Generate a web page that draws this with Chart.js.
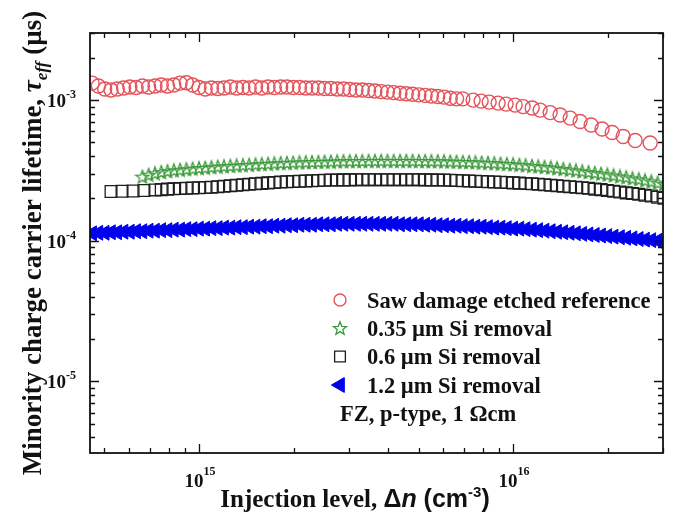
<!DOCTYPE html>
<html>
<head>
<meta charset="utf-8">
<script src="https://cdn.jsdelivr.net/npm/chart.js@4.4.0/dist/chart.umd.min.js"></script>
<style>
  html, body { margin: 0; padding: 0; background: #fff; }
  canvas { display: block; }
</style>
</head>
<body>
<canvas id="lifetime" width="673" height="514"></canvas>
<script>
// injection level grid, cm^-3
const dnGrid = [
  4.571e14, 4.786e14, 5.012e14, 5.248e14, 5.495e14, 5.754e14, 6.026e14, 6.310e14, 6.607e14, 6.918e14,
  7.244e14, 7.586e14, 7.943e14, 8.318e14, 8.710e14, 9.120e14, 9.550e14,
  1.000e15, 1.047e15, 1.096e15, 1.148e15, 1.202e15, 1.259e15, 1.318e15, 1.380e15, 1.445e15, 1.514e15,
  1.585e15, 1.660e15, 1.738e15, 1.820e15, 1.905e15, 1.995e15, 2.089e15, 2.188e15, 2.291e15, 2.399e15,
  2.512e15, 2.630e15, 2.754e15, 2.884e15, 3.020e15, 3.162e15, 3.311e15, 3.467e15, 3.631e15, 3.802e15,
  3.981e15, 4.169e15, 4.365e15, 4.571e15, 4.786e15, 5.012e15, 5.248e15, 5.495e15, 5.754e15, 6.026e15,
  6.310e15, 6.607e15, 6.918e15, 7.244e15, 7.586e15, 7.943e15, 8.318e15, 8.710e15, 9.120e15, 9.550e15,
  1.000e16, 1.047e16, 1.096e16, 1.148e16, 1.202e16, 1.259e16, 1.318e16, 1.380e16, 1.445e16, 1.514e16,
  1.585e16, 1.660e16, 1.738e16, 1.820e16, 1.905e16, 1.995e16, 2.089e16, 2.188e16, 2.291e16, 2.399e16,
  2.512e16, 2.630e16, 2.754e16, 2.884e16, 3.020e16
];
// reference sample is sparser at high injection
const refTailX = [
  7.46e15, 7.91e15, 8.39e15, 8.96e15, 9.50e15, 1.015e16, 1.076e16, 1.150e16, 1.219e16, 1.312e16,
  1.411e16, 1.519e16, 1.634e16, 1.772e16, 1.920e16, 2.067e16, 2.240e16, 2.446e16, 2.731e16
];
const si06HeadX = [5.25e14, 5.69e14, 6.17e14, 6.68e14];

// effective lifetime, us
const refTau = [
  1.32e-3, 1.26e-3, 1.20e-3, 1.18e-3, 1.20e-3, 1.22e-3, 1.24e-3, 1.23e-3, 1.26e-3, 1.24e-3,
  1.26e-3, 1.28e-3, 1.26e-3, 1.28e-3, 1.32e-3, 1.33e-3, 1.28e-3, 1.23e-3, 1.20e-3, 1.22e-3,
  1.21e-3, 1.22e-3, 1.24e-3, 1.22e-3, 1.23e-3, 1.22e-3, 1.24e-3, 1.22e-3, 1.24e-3, 1.23e-3,
  1.24e-3, 1.24e-3, 1.23e-3, 1.23e-3, 1.22e-3, 1.22e-3, 1.22e-3, 1.21e-3, 1.21e-3, 1.20e-3,
  1.20e-3, 1.19e-3, 1.18e-3, 1.18e-3, 1.17e-3, 1.16e-3, 1.15e-3, 1.14e-3, 1.13e-3, 1.12e-3,
  1.11e-3, 1.10e-3, 1.09e-3, 1.08e-3, 1.07e-3, 1.06e-3, 1.05e-3, 1.03e-3, 1.02e-3, 1.02e-3,
  1.00e-3, 0.984e-3, 0.968e-3, 0.952e-3, 0.937e-3, 0.922e-3, 0.899e-3, 0.878e-3, 0.849e-3, 0.815e-3,
  0.783e-3, 0.745e-3, 0.704e-3, 0.665e-3, 0.623e-3, 0.588e-3, 0.551e-3, 0.516e-3, 0.496e-3
];
const si035Tau = [
  2.86e-4, 2.95e-4, 3.02e-4, 3.08e-4, 3.13e-4, 3.17e-4, 3.20e-4, 3.23e-4, 3.26e-4,
  3.29e-4, 3.31e-4, 3.34e-4, 3.37e-4, 3.39e-4, 3.41e-4, 3.43e-4, 3.45e-4, 3.47e-4, 3.49e-4,
  3.51e-4, 3.53e-4, 3.55e-4, 3.57e-4, 3.58e-4, 3.60e-4, 3.61e-4, 3.62e-4, 3.63e-4, 3.64e-4,
  3.65e-4, 3.66e-4, 3.67e-4, 3.68e-4, 3.68e-4, 3.69e-4, 3.69e-4, 3.70e-4, 3.70e-4, 3.70e-4,
  3.70e-4, 3.70e-4, 3.70e-4, 3.70e-4, 3.70e-4, 3.69e-4, 3.69e-4, 3.68e-4, 3.68e-4, 3.67e-4,
  3.66e-4, 3.65e-4, 3.64e-4, 3.63e-4, 3.61e-4, 3.60e-4, 3.58e-4, 3.56e-4, 3.54e-4, 3.52e-4,
  3.50e-4, 3.47e-4, 3.44e-4, 3.41e-4, 3.38e-4, 3.35e-4, 3.32e-4, 3.28e-4, 3.24e-4, 3.20e-4,
  3.16e-4, 3.12e-4, 3.08e-4, 3.04e-4, 3.00e-4, 2.96e-4, 2.92e-4, 2.87e-4, 2.83e-4, 2.78e-4,
  2.74e-4, 2.69e-4, 2.64e-4, 2.59e-4, 2.54e-4
];
const si06Tau = [
  2.24e-4, 2.25e-4, 2.26e-4, 2.28e-4,
  2.30e-4, 2.31e-4, 2.33e-4, 2.34e-4, 2.35e-4, 2.36e-4, 2.37e-4,
  2.38e-4, 2.39e-4, 2.40e-4, 2.42e-4, 2.44e-4, 2.46e-4, 2.48e-4, 2.50e-4, 2.52e-4, 2.54e-4,
  2.56e-4, 2.58e-4, 2.60e-4, 2.62e-4, 2.63e-4, 2.64e-4, 2.65e-4, 2.66e-4, 2.67e-4, 2.68e-4,
  2.69e-4, 2.70e-4, 2.70e-4, 2.71e-4, 2.71e-4, 2.72e-4, 2.72e-4, 2.72e-4, 2.72e-4, 2.72e-4,
  2.72e-4, 2.72e-4, 2.72e-4, 2.72e-4, 2.72e-4, 2.72e-4, 2.71e-4, 2.71e-4, 2.70e-4, 2.70e-4,
  2.69e-4, 2.68e-4, 2.67e-4, 2.66e-4, 2.65e-4, 2.64e-4, 2.63e-4, 2.62e-4, 2.61e-4, 2.60e-4,
  2.58e-4, 2.57e-4, 2.55e-4, 2.54e-4, 2.52e-4, 2.50e-4, 2.48e-4, 2.46e-4, 2.44e-4, 2.42e-4,
  2.40e-4, 2.38e-4, 2.36e-4, 2.33e-4, 2.31e-4, 2.28e-4, 2.25e-4, 2.22e-4, 2.19e-4, 2.17e-4,
  2.14e-4, 2.11e-4, 2.08e-4, 2.04e-4, 2.01e-4
];
const si12Tau = [
  1.13e-4, 1.14e-4, 1.14e-4, 1.15e-4, 1.15e-4, 1.16e-4, 1.16e-4, 1.17e-4, 1.17e-4, 1.18e-4,
  1.18e-4, 1.19e-4, 1.19e-4, 1.20e-4, 1.20e-4, 1.21e-4, 1.21e-4,
  1.22e-4, 1.22e-4, 1.23e-4, 1.23e-4, 1.24e-4, 1.24e-4, 1.25e-4, 1.25e-4, 1.26e-4, 1.26e-4,
  1.27e-4, 1.27e-4, 1.28e-4, 1.28e-4, 1.29e-4, 1.29e-4, 1.30e-4, 1.30e-4, 1.30e-4, 1.31e-4,
  1.31e-4, 1.31e-4, 1.32e-4, 1.32e-4, 1.32e-4, 1.32e-4, 1.32e-4, 1.32e-4, 1.32e-4, 1.32e-4,
  1.32e-4, 1.32e-4, 1.31e-4, 1.31e-4, 1.31e-4, 1.31e-4, 1.30e-4, 1.30e-4, 1.29e-4, 1.29e-4,
  1.28e-4, 1.28e-4, 1.27e-4, 1.27e-4, 1.26e-4, 1.26e-4, 1.25e-4, 1.24e-4, 1.24e-4, 1.23e-4,
  1.22e-4, 1.22e-4, 1.21e-4, 1.20e-4, 1.19e-4, 1.18e-4, 1.17e-4, 1.16e-4, 1.15e-4, 1.14e-4,
  1.13e-4, 1.12e-4, 1.11e-4, 1.10e-4, 1.09e-4, 1.08e-4, 1.07e-4, 1.06e-4, 1.05e-4, 1.04e-4,
  1.03e-4, 1.02e-4, 1.01e-4, 1.00e-4, 0.99e-4
];

const seriesNames = [
  'Saw damage etched reference',
  '0.35 \u00b5m Si removal',
  '0.6 \u00b5m Si removal',
  '1.2 \u00b5m Si removal'
];
const sampleNote = 'FZ, p-type, 1 \u03a9cm';
const xMajorTicks = [1e15, 1e16];
const xTickExps = ['15', '16'];
const yMajorTicks = [1e-5, 1e-4, 1e-3];
const yTickExps = ['-5', '-4', '-3'];

const SERIF = '"Liberation Serif", "Times New Roman", serif';
const SANS = '"Liberation Sans", Arial, sans-serif';

function toPoints(xs, ys) {
  return ys.map((y, i) => ({ x: xs[i], y: y }));
}

// hollow five point star, chart.js 'star' is an asterisk
function starImage(size, color) {
  const c = document.createElement('canvas');
  c.width = c.height = size;
  const g = c.getContext('2d');
  const cx = size / 2, cy = size / 2 + 0.7;
  const R = size / 2 - 1, r = R * 0.42;
  g.beginPath();
  for (let k = 0; k < 10; k++) {
    const a = -Math.PI / 2 + k * Math.PI / 5;
    const rr = k % 2 ? r : R;
    g.lineTo(cx + rr * Math.cos(a), cy + rr * Math.sin(a));
  }
  g.closePath();
  g.strokeStyle = color;
  g.lineWidth = 1.3;
  g.stroke();
  return c;
}

const star = starImage(16, '#3a9a3a');

const datasets = [
  {
    label: seriesNames[0],
    data: toPoints(dnGrid.slice(0, 60).concat(refTailX), refTau),
    pointStyle: 'circle',
    pointRadius: 7,
    borderWidth: 1.4,
    borderColor: '#e4525a',
    backgroundColor: 'rgba(0,0,0,0)',
  },
  {
    label: seriesNames[1],
    data: toPoints(dnGrid.slice(8), si035Tau),
    pointStyle: star,
    pointRadius: 7,
    borderColor: '#3a9a3a',
    backgroundColor: 'rgba(0,0,0,0)',
  },
  {
    label: seriesNames[2],
    data: toPoints(si06HeadX.concat(dnGrid.slice(10)), si06Tau),
    pointStyle: 'rect',
    pointRadius: 8.3,
    borderWidth: 1.3,
    borderColor: '#1e1e1e',
    backgroundColor: 'rgba(0,0,0,0)',
  },
  {
    label: seriesNames[3],
    data: toPoints(dnGrid, si12Tau),
    pointStyle: 'triangle',
    pointRotation: -90,
    pointRadius: 8.6,
    borderWidth: 1,
    borderColor: '#0000ee',
    backgroundColor: '#0000ee',
  },
];

function drawPower(ctx, exp, x, y, baseSize, expSize, expRise) {
  ctx.font = 'bold ' + baseSize + 'px ' + SERIF;
  const wb = ctx.measureText('10').width;
  ctx.textAlign = 'left';
  ctx.textBaseline = 'alphabetic';
  ctx.fillText('10', x, y);
  ctx.font = 'bold ' + expSize + 'px ' + SERIF;
  ctx.fillText(exp, x + wb, y - expRise);
}

function powerWidth(ctx, exp, baseSize, expSize) {
  ctx.font = 'bold ' + baseSize + 'px ' + SERIF;
  const wb = ctx.measureText('10').width;
  ctx.font = 'bold ' + expSize + 'px ' + SERIF;
  return wb + ctx.measureText(exp).width;
}

function widthOf(ctx, parts) {
  let w = 0;
  parts.forEach(p => { ctx.font = p.font; w += ctx.measureText(p.text).width; });
  return w;
}

function drawParts(ctx, parts, x, y) {
  parts.forEach(p => {
    ctx.font = p.font;
    ctx.fillText(p.text, x, y + (p.dy || 0));
    x += ctx.measureText(p.text).width;
  });
}

function isNice(v) {
  const e = Math.floor(Math.log10(v) + 1e-9);
  const s = v / Math.pow(10, e);
  return Math.abs(s - Math.round(s)) < 1e-6 ? Math.round(s) : 0;
}

const decorPlugin = {
  id: 'decor',
  afterDatasetsDraw(chart) {
    const ctx = chart.ctx;
    const a = chart.chartArea;
    const xs = chart.scales.x, ys = chart.scales.y;
    ctx.save();
    ctx.strokeStyle = '#111';
    ctx.fillStyle = '#111';

    // frame
    ctx.lineWidth = 1.8;
    ctx.strokeRect(a.left, a.top, a.right - a.left, a.bottom - a.top);

    // inward ticks on all four sides
    ctx.lineWidth = 1.3;
    ctx.beginPath();
    xs.ticks.forEach(t => {
      const s = isNice(t.value);
      if (!s) return;
      const len = s === 1 ? 9 : 5;
      const p = Math.round(xs.getPixelForValue(t.value)) + 0.5;
      ctx.moveTo(p, a.bottom); ctx.lineTo(p, a.bottom - len);
      ctx.moveTo(p, a.top); ctx.lineTo(p, a.top + len);
    });
    ys.ticks.forEach(t => {
      const s = isNice(t.value);
      if (!s) return;
      const len = s === 1 ? 9 : 5;
      const p = Math.round(ys.getPixelForValue(t.value)) + 0.5;
      ctx.moveTo(a.left, p); ctx.lineTo(a.left + len, p);
      ctx.moveTo(a.right, p); ctx.lineTo(a.right - len, p);
    });
    ctx.stroke();

    // tick labels
    xMajorTicks.forEach((v, i) => {
      const w = powerWidth(ctx, xTickExps[i], 19, 12);
      drawPower(ctx, xTickExps[i], xs.getPixelForValue(v) - w / 2 + 1, 487, 19, 12, 12);
    });
    yMajorTicks.forEach((v, i) => {
      const w = powerWidth(ctx, yTickExps[i], 19, 12);
      drawPower(ctx, yTickExps[i], 76 - w, ys.getPixelForValue(v) + 7, 19, 12, 9);
    });

    // axis titles
    ctx.textAlign = 'left';
    ctx.textBaseline = 'alphabetic';
    const xTitle = [
      { text: 'Injection level, ', font: 'bold 25px ' + SERIF },
      { text: '\u0394', font: 'bold 25px ' + SANS },
      { text: 'n', font: 'italic bold 25px ' + SANS },
      { text: ' (cm', font: 'bold 25px ' + SANS },
      { text: '-3', font: 'bold 15px ' + SANS, dy: -10 },
      { text: ')', font: 'bold 25px ' + SANS },
    ];
    drawParts(ctx, xTitle, 355 - widthOf(ctx, xTitle) / 2, 507);

    const yTitle = [
      { text: 'Minority charge carrier lifetime, ', font: 'bold 27px ' + SERIF },
      { text: '\u03c4', font: 'italic bold 27px ' + SERIF },
      { text: 'eff', font: 'italic bold 17px ' + SERIF, dy: 6 },
      { text: ' (\u00b5s)', font: 'bold 27px ' + SERIF },
    ];
    ctx.save();
    ctx.translate(41, 243);
    ctx.rotate(-Math.PI / 2);
    drawParts(ctx, yTitle, -widthOf(ctx, yTitle) / 2, 0);
    ctx.restore();

    // legend inside the plot
    const rows = [300, 328, 356.5, 385];
    const legendRadius = [6, 7, 7.6, 8.6];
    chart.data.datasets.forEach((ds, i) => {
      ctx.save();
      ctx.strokeStyle = ds.borderColor;
      ctx.fillStyle = ds.backgroundColor;
      ctx.lineWidth = ds.borderWidth || 1;
      Chart.helpers.drawPoint(ctx, {
        pointStyle: ds.pointStyle,
        radius: legendRadius[i],
        rotation: ds.pointRotation || 0,
        borderWidth: ds.borderWidth || 1,
      }, 340, rows[i]);
      ctx.restore();
      ctx.font = 'bold 22.5px ' + SERIF;
      ctx.fillText(ds.label, 367, rows[i] + 7.5);
    });
    ctx.font = 'bold 22.5px ' + SERIF;
    ctx.fillText(sampleNote, 340, 413 + 7.5);

    ctx.restore();
  }
};

const hiddenAxis = {
  display: true,
  type: 'logarithmic',
  ticks: { display: false },
  grid: { display: false, drawTicks: false },
  border: { display: false },
  title: { display: false },
};

new Chart(document.getElementById('lifetime'), {
  type: 'scatter',
  data: { datasets: datasets },
  options: {
    responsive: false,
    animation: false,
    devicePixelRatio: 1,
    events: [],
    layout: { padding: { left: 90, right: 10, top: 33, bottom: 61 } },
    scales: {
      x: Object.assign({}, hiddenAxis, { min: 4.5e14, max: 3.0e16 }),
      y: Object.assign({}, hiddenAxis, { min: 3.1e-6, max: 3.0e-3 }),
    },
    plugins: {
      legend: { display: false },
      tooltip: { enabled: false },
    },
  },
  plugins: [decorPlugin],
});
</script>
</body>
</html>
